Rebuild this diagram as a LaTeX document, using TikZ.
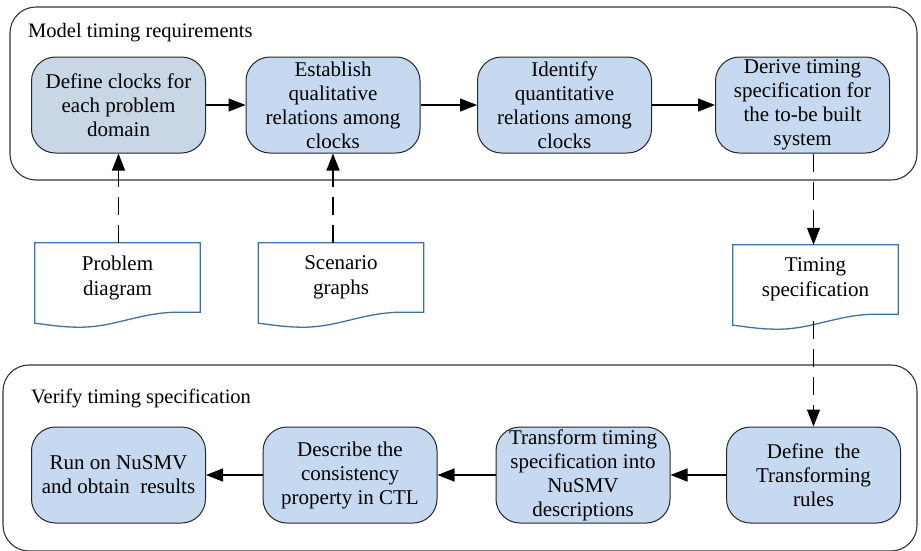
\documentclass[tikz,border=0pt]{standalone}
\usepackage{fontspec}
\setmainfont{Liberation Serif}
\usetikzlibrary{arrows.meta,calc}
\definecolor{boxfill}{HTML}{C6D9F0}
\definecolor{boxfillA}{HTML}{C9D6E6}
\definecolor{docblue}{HTML}{41719C}
\tikzset{
 proc/.style={draw=black!85, line width=1pt, rounded corners=24pt, fill=boxfill, minimum width=174pt, minimum height=96pt, inner sep=0pt, align=center, font=\fontsize{21}{24}\selectfont},
 docnode/.style={minimum width=165pt, minimum height=69pt, inner sep=0pt, align=center, font=\fontsize{21}{25}\selectfont},
 docline/.style={draw=docblue, line width=1.3pt},
 container/.style={draw=black!80, line width=1.1pt, rounded corners=26pt},
 flow/.style={line width=1.2pt, -{Triangle[length=17pt,width=13pt]}},
 dflow/.style={flow, dash pattern=on 18pt off 10pt},
 title/.style={anchor=base west, inner sep=0pt, font=\fontsize{20.5}{24}\selectfont},
}
\newcommand{\docshape}[1]{%
 \draw[docline] (#1.north west) -- (#1.north east) -- (#1.south east) -- ($(#1.south east)+(-22,0)$)
 .. controls ($(#1.south east)+(-60,0)$) and ($(#1.south west)+(80,15)$) .. ($(#1.south west)+(45,15)$)
 .. controls ($(#1.south west)+(25,15)$) and ($(#1.south west)+(10,12)$) .. ($(#1.south west)+(0,11)$) -- cycle;}
\begin{document}
\begin{tikzpicture}[x=1pt,y=-1pt]
\clip (0,0) rectangle (921,550);
% containers
\draw[container] (10,7) rectangle (917,180);
\draw[container] (3,365) rectangle (917,551);
\node[title] (t1) at (28,37) {Model timing requirements};
\node[title] (t2) at (31,403) {Verify timing specification};
% top row
\node[proc, fill=boxfillA] (A) at (118.5,105) {Define clocks for\\each problem\\domain};
\node[proc] (B) at (333,105) {Establish\\qualitative\\relations among\\clocks};
\node[proc] (C) at (564.5,105) {Identify\\quantitative\\relations among\\clocks};
\node[proc] (D) at (802.5,105) {Derive timing\\specification for\\the to-be built\\system};
% bottom row
\node[proc] (H) at (118.5,475) {Run on NuSMV\\and obtain~ results};
\node[proc] (G) at (350,475) {Describe the\\consistency\\property in CTL};
\node[proc] (F) at (583,475) {Transform timing\\specification into\\NuSMV\\descriptions};
\node[proc] (E) at (813.5,475) {Define~ the\\Transforming\\rules};
% documents
\node[docnode] (pd) at (117.5,277.5) {Problem\\diagram};
\node[docnode] (sg) at (341,277.5) {Scenario\\graphs};
\node[docnode] (ts) at (815.5,279.5) {Timing\\specification};
\docshape{pd}
\docshape{sg}
\docshape{ts}
\coordinate (tsout) at (813.5,321);
% arrows
\draw[flow] (A.east) -- (B.west);
\draw[flow] (B.east) -- (C.west);
\draw[flow] (C.east) -- (D.west);
\draw[flow] (E.west) -- (F.east);
\draw[flow] (F.west) -- (G.east);
\draw[flow] (G.west) -- (H.east);
\draw[dflow] (A.south |- pd.north) -- (A.south);
\draw[dflow] (B.south |- sg.north) -- (B.south);
\draw[dflow] (tsout |- D.south) -- (tsout |- ts.north);
\draw[dflow] (tsout) -- (E.north);
\end{tikzpicture}
\end{document}
